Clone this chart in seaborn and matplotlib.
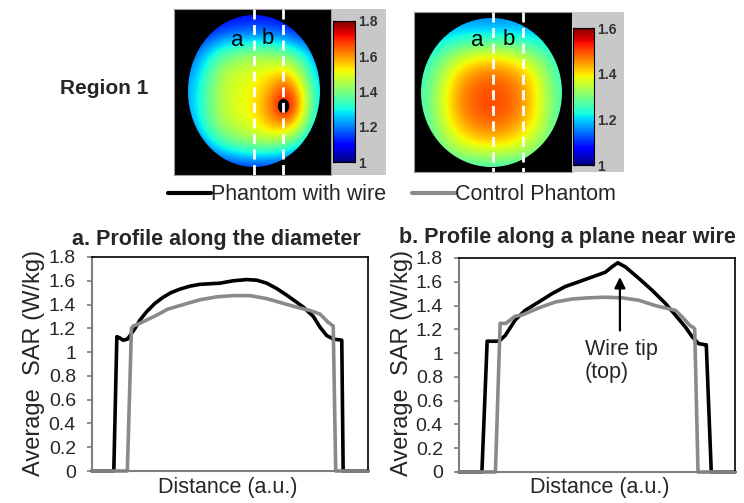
import numpy as np
import pandas as pd
import matplotlib
matplotlib.use("Agg")
import matplotlib.pyplot as plt
from matplotlib.patches import Ellipse
from matplotlib.lines import Line2D
import seaborn as sns

# ---------------------------------------------------------------- data
WIRE = "Phantom with wire"
CONTROL = "Control Phantom"

# a. profile along the diameter (distance in a.u., SAR in W/kg)
wire_a_x = [0, 7.9, 9.0, 10.0, 11.3, 12.9, 15.6, 17.4, 19.8, 22.8, 25.7, 28.6, 31.9,
            35.5, 39.1, 42.8, 46.4, 51.2, 56.0, 59.7, 63.3, 66.9, 70.5, 72.9, 76.5,
            80.2, 82.6, 85.0, 87.4, 90.5, 91.0, 100]
wire_a_y = [0, 0, 1.13, 1.12, 1.10, 1.11, 1.20, 1.27, 1.34, 1.41, 1.46, 1.50, 1.53,
            1.555, 1.57, 1.575, 1.58, 1.60, 1.61, 1.605, 1.58, 1.535, 1.48, 1.44, 1.38,
            1.30, 1.21, 1.14, 1.11, 1.10, 0, 0]
ctrl_a_x = [0, 12.8, 14.3, 15.0, 16.2, 19.8, 23.4, 27.3, 33.1, 39.1, 45.2, 51.2, 57.2,
            63.3, 69.3, 75.4, 79.0, 82.6, 85.6, 87.4, 88.3, 100]
ctrl_a_y = [0, 0, 1.20, 1.22, 1.23, 1.27, 1.31, 1.36, 1.40, 1.44, 1.465, 1.475, 1.475,
            1.45, 1.41, 1.37, 1.35, 1.32, 1.25, 1.22, 0, 0]

# b. profile along a plane near the wire
wire_b_x = [0, 8.3, 10.2, 12.0, 14.0, 15.0, 16.8, 20.4, 24.0, 28.9, 33.7, 38.5, 43.4,
            48.2, 53.0, 55.4, 57.5, 60.3, 65.1, 69.9, 74.7, 78.4, 82.0, 84.4, 86.8,
            89.2, 89.6, 91.4, 100]
wire_b_y = [0, 0, 1.10, 1.10, 1.10, 1.11, 1.15, 1.28, 1.36, 1.43, 1.50, 1.56, 1.60,
            1.64, 1.68, 1.725, 1.76, 1.725, 1.63, 1.53, 1.42, 1.32, 1.22, 1.14, 1.08,
            1.07, 1.07, 0, 0]
ctrl_b_x = [0, 13.2, 14.9, 17.0, 20.3, 22.8, 28.9, 34.9, 41.0, 47.0, 53.0, 59.1, 65.1,
            71.1, 74.7, 78.4, 80.8, 83.8, 85.0, 85.4, 86.6, 100]
ctrl_b_y = [0, 0, 1.25, 1.25, 1.31, 1.32, 1.38, 1.43, 1.455, 1.465, 1.47, 1.465, 1.445,
            1.40, 1.38, 1.36, 1.305, 1.23, 1.215, 1.20, 0, 0]

wire_tip = (58.3, 1.76)
sar_ticks = [0, 0.2, 0.4, 0.6, 0.8, 1.0, 1.2, 1.4, 1.6, 1.8]

# SAR maps (W/kg), coarse samples across each phantom cross-section
map_wire = [
    [1.05, 1.05, 1.08, 1.10, 1.10, 1.10, 1.08, 1.05, 1.05],
    [1.08, 1.12, 1.17, 1.19, 1.20, 1.19, 1.17, 1.12, 1.08],
    [1.15, 1.25, 1.35, 1.40, 1.42, 1.42, 1.38, 1.30, 1.18],
    [1.20, 1.32, 1.45, 1.48, 1.50, 1.52, 1.55, 1.40, 1.22],
    [1.22, 1.35, 1.46, 1.50, 1.52, 1.60, 1.72, 1.50, 1.25],
    [1.22, 1.35, 1.46, 1.50, 1.53, 1.63, 1.80, 1.50, 1.25],
    [1.18, 1.32, 1.43, 1.47, 1.50, 1.55, 1.55, 1.40, 1.22],
    [1.10, 1.20, 1.30, 1.35, 1.38, 1.38, 1.33, 1.25, 1.12],
    [1.05, 1.08, 1.10, 1.12, 1.12, 1.12, 1.10, 1.08, 1.05],
]
map_ctrl = [
    [1.15, 1.15, 1.15, 1.15, 1.15, 1.15, 1.15, 1.15, 1.15],
    [1.18, 1.20, 1.22, 1.23, 1.23, 1.23, 1.22, 1.20, 1.18],
    [1.22, 1.27, 1.33, 1.37, 1.38, 1.37, 1.33, 1.28, 1.22],
    [1.24, 1.32, 1.41, 1.46, 1.48, 1.46, 1.42, 1.33, 1.24],
    [1.25, 1.34, 1.44, 1.49, 1.50, 1.49, 1.44, 1.35, 1.25],
    [1.25, 1.34, 1.44, 1.49, 1.50, 1.49, 1.44, 1.35, 1.25],
    [1.24, 1.32, 1.40, 1.45, 1.47, 1.45, 1.40, 1.33, 1.24],
    [1.22, 1.28, 1.34, 1.37, 1.38, 1.37, 1.34, 1.29, 1.23],
    [1.20, 1.22, 1.24, 1.25, 1.25, 1.25, 1.24, 1.22, 1.20],
]
cbar_wire_ticks = [1, 1.2, 1.4, 1.6, 1.8]
cbar_ctrl_ticks = [1, 1.2, 1.4, 1.6]

# ---------------------------------------------------------------- style
sns.set_style("white")
plt.rcParams["font.family"] = ["Liberation Sans", "DejaVu Sans"]

W, H = 744, 503
fig = plt.figure(figsize=(W / 100, H / 100), dpi=100)


def px_axes(x0, y0, x1, y1):
    """Axes placed by pixel box (top-left origin)."""
    return fig.add_axes([x0 / W, 1 - y1 / H, (x1 - x0) / W, (y1 - y0) / H])


def fig_xy(x, y):
    return x / W, 1 - y / H


# ---------------------------------------------------------------- maps
def draw_map(box, grid, vmax, ellipse, cuts, letters, cbox, gbox, ticks, tip=None):
    x0, y0, x1, y1 = box
    ax = px_axes(*box)
    ax.set_facecolor("black")
    (cx, cy), ew, eh = ellipse
    g = np.array(grid)
    n_r, n_c = g.shape
    dx = ew / (n_c - 1) / 2
    dy = eh / (n_r - 1) / 2
    im = ax.imshow(g, cmap="jet", vmin=1.0, vmax=vmax, interpolation="bicubic",
                   extent=(cx - ew / 2 - dx, cx + ew / 2 + dx,
                           cy + eh / 2 + dy, cy - eh / 2 - dy),
                   aspect="auto")
    clip = Ellipse((cx, cy), ew, eh, transform=ax.transData)
    im.set_clip_path(clip)
    if tip is not None:
        ax.add_patch(Ellipse(tip, 10, 13, color="black", zorder=3))
    for xc in cuts:
        ax.plot([xc, xc], [y0, y1], color="white", lw=2.0,
                ls=(0, (3.6, 2.0)), zorder=4)
    for (lx, ly), s in letters:
        ax.text(lx, ly, s, color="black", fontsize=16, ha="center", va="center",
                zorder=5)
    ax.set_xlim(x0, x1)
    ax.set_ylim(y1, y0)
    ax.set_xticks([])
    ax.set_yticks([])
    for sp in ax.spines.values():
        sp.set_color("#9a9a9a")
        sp.set_linewidth(0.8)

    gp = px_axes(*gbox)
    gp.set_facecolor("#c8c8c8")
    gp.set_xticks([])
    gp.set_yticks([])
    for sp in gp.spines.values():
        sp.set_visible(False)

    cax = px_axes(*cbox)
    cb = fig.colorbar(im, cax=cax, ticks=ticks)
    cb.ax.set_yticklabels([f"{t:g}" for t in ticks])
    cb.outline.set_linewidth(0.8)
    cb.outline.set_edgecolor("black")
    cax.tick_params(direction="in", length=2.5, width=1.0, left=True, right=True,
                    labelsize=10, pad=2, labelcolor="#333333", colors="#333333")
    for t in cax.get_yticklabels():
        t.set_fontweight("bold")
        t.set_color("#333333")
    return ax


draw_map((174, 9, 331, 175), map_wire, 1.8, ((254, 91), 132, 152),
         [253.5, 282.5], [((237.5, 40), "a"), ((268, 39), "b")],
         (333, 21, 355, 162), (332, 9, 386, 175), cbar_wire_ticks, tip=(283.5, 106))
draw_map((414, 12, 572, 172), map_ctrl, 1.6, ((491.5, 92.5), 141, 149),
         [493, 523], [((477.5, 41), "a"), ((509, 40), "b")],
         (573, 28, 594, 165), (572, 12, 624, 172), cbar_ctrl_ticks)

fig.text(*fig_xy(60, 88), "Region 1", fontsize=15, fontweight="bold",
         ha="left", va="center")

# ---------------------------------------------------------------- profiles
palette = {WIRE: "black", CONTROL: "#8a8a8a"}


def profile_frame(wx, wy, cx, cy):
    return pd.concat([
        pd.DataFrame({"Distance": wx, "SAR": wy, "Phantom": WIRE}),
        pd.DataFrame({"Distance": cx, "SAR": cy, "Phantom": CONTROL}),
    ], ignore_index=True)


def draw_profile(box, df):
    ax = px_axes(*box)
    sns.lineplot(data=df, x="Distance", y="SAR", hue="Phantom",
                 hue_order=[WIRE, CONTROL], palette=palette, estimator=None,
                 sort=False, linewidth=2.6, legend=False, ax=ax)
    for ln in ax.lines:
        ln.set_clip_on(False)
        ln.set_solid_joinstyle("round")
    ax.set_xlim(0, 100)
    ax.set_ylim(0, 1.8)
    ax.set_xticks([])
    ax.set_yticks(sar_ticks)
    ax.set_yticklabels([f"{v:g}" for v in sar_ticks])
    ax.tick_params(axis="y", direction="out", length=3.6, width=1.3,
                   color="#878787", labelsize=14, pad=8, left=True)
    ax.set_xlabel("")
    ax.set_ylabel("")
    for side in ("left", "bottom"):
        ax.spines[side].set_color("#7f7f7f")
        ax.spines[side].set_linewidth(1.5)
    for side in ("top", "right"):
        ax.spines[side].set_color("black")
        ax.spines[side].set_linewidth(1.2)
    return ax


ax_a = draw_profile((92, 257, 368, 471),
                    profile_frame(wire_a_x, wire_a_y, ctrl_a_x, ctrl_a_y))
ax_b = draw_profile((459, 258, 735, 472),
                    profile_frame(wire_b_x, wire_b_y, ctrl_b_x, ctrl_b_y))

ax_b.annotate("", xy=(wire_tip[0], 1.64), xytext=(wire_tip[0], 1.19),
              arrowprops=dict(arrowstyle="-|>", color="black", lw=1.6,
                              mutation_scale=16, shrinkA=0, shrinkB=0))
ax_b.text(45.6, 0.935, "Wire tip\n(top)", fontsize=15.5, ha="left", va="center",
          linespacing=1.1)

fig.text(*fig_xy(216.5, 240), "a. Profile along the diameter", fontsize=15.5,
         fontweight="bold", ha="center", va="center")
fig.text(*fig_xy(567, 238), "b. Profile along a plane near wire", fontsize=15.5,
         fontweight="bold", ha="center", va="center")
for xc in (34, 402):
    fig.text(*fig_xy(xc, 363), "Average  SAR (W/kg)", fontsize=17,
             rotation=90, ha="center", va="center")
for xc in (227.5, 599.5):
    fig.text(*fig_xy(xc, 487), "Distance (a.u.)", fontsize=15.5,
             ha="center", va="center")

handles = [Line2D([], [], color=palette[WIRE], lw=3),
           Line2D([], [], color=palette[CONTROL], lw=3)]
fig.legend(handles, [WIRE, CONTROL], loc="center",
           bbox_to_anchor=fig_xy(391.5, 195), ncol=2, frameon=False,
           fontsize=15.5, handlelength=2.0, handletextpad=0.0,
           columnspacing=1.2, borderpad=0, borderaxespad=0)

fig.savefig("out.png", dpi=100)
